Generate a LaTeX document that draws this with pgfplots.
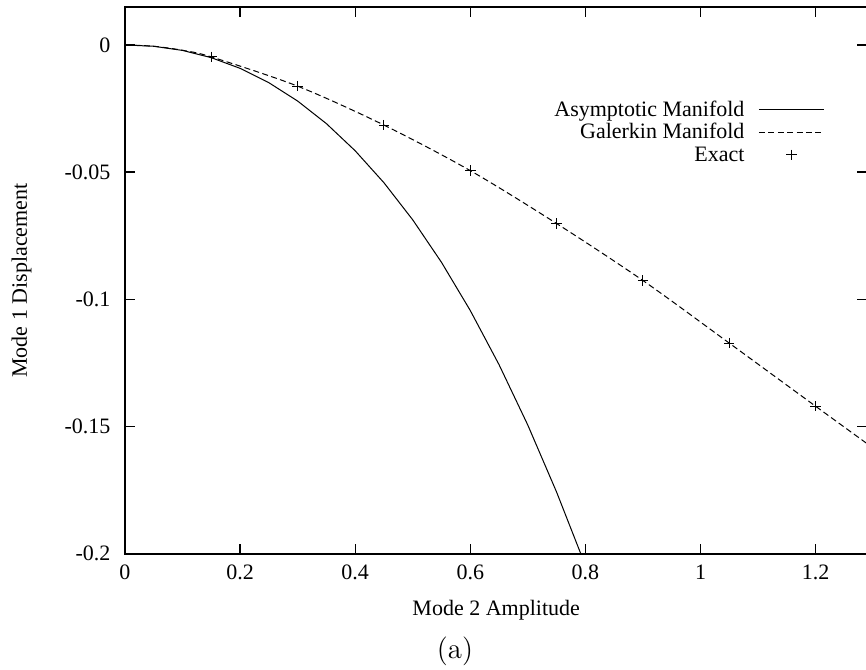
\documentclass[border=0pt]{standalone}
\usepackage{fontspec}
\usepackage{pgfplots}
\pgfplotsset{compat=1.18}
\newfontfamily\tnr{Liberation Serif}
\newcommand\tnrsz{\tnr\fontsize{11}{13}\selectfont}
% uniform row height for legend entries, centred on the x-height
\newcommand\lstrut{\rule[-3.1pt]{0pt}{11.2pt}}
\pgfplotsset{
  lineleg/.style={legend image code/.code={\draw[##1] (0pt,0pt) -- (32.5pt,0pt);}},
  markleg/.style={legend image code/.code={\draw[##1] plot coordinates {(16.25pt,0pt)};}},
}

\begin{document}
\begin{tikzpicture}
\begin{axis}[
  scale only axis,
  width=371.2pt, height=273.25pt,
  xmin=0, xmax=1.29, ymin=-0.2, ymax=0.0148,
  xtick={0,0.2,0.4,0.6,0.8,1,1.2},
  xticklabels={0,0.2,0.4,0.6,0.8,1,1.2},
  ytick={-0.2,-0.15,-0.1,-0.05,0},
  yticklabels={-0.2,-0.15,-0.1,-0.05,0},
  tick align=inside, major tick length=5pt,
  axis line style={line width=1pt},
  tick style={line width=0.7pt, black},
  ticklabel style={font=\tnrsz},
  x tick label style={yshift=-2pt},
  y tick label style={xshift=-3.8pt},
  xlabel={Mode 2 Amplitude}, ylabel={Mode 1 Displacement},
  every axis x label/.style={at={(rel axis cs:0.5,0)}, anchor=center, yshift=-28pt, font=\tnrsz},
  every axis y label/.style={at={(rel axis cs:0,0.5)}, xshift=-51.7pt, rotate=90, anchor=center, font=\tnrsz},
  legend plot pos=right,
  legend cell align=right,
  legend style={draw=none, fill=none, font=\tnrsz, inner sep=0pt,
    at={(rel axis cs:0.9427,0.8386)}, anchor=north east,
    column sep=5pt, row sep=-2.25pt},
]
% asymptotic (centre manifold) approximation
\addplot[black, line width=0.5pt, lineleg]
  coordinates {
  (0,0) (0.05,-0.00052) (0.1,-0.00215) (0.15,-0.00501) (0.2,-0.0092)
  (0.25,-0.01484) (0.3,-0.02205) (0.35,-0.03093) (0.4,-0.0416)
  (0.45,-0.05417) (0.5,-0.06875) (0.55,-0.08546) (0.6,-0.1044)
  (0.65,-0.12569) (0.7,-0.14945) (0.75,-0.17578) (0.792,-0.2)
  };
\addlegendentry{\lstrut Asymptotic Manifold}
% Galerkin projection
\addplot[black, line width=0.5pt, dash pattern=on 3pt off 1.7pt, smooth, lineleg]
  coordinates {
  (0,0) (0.05,-0.00052) (0.1,-0.0021) (0.15,-0.0047) (0.3,-0.0162)
  (0.45,-0.0315) (0.6,-0.0494) (0.75,-0.0702) (0.9,-0.0926)
  (1.05,-0.1172) (1.2,-0.1420) (1.29,-0.1568)
  };
\addlegendentry{\lstrut Galerkin Manifold}
% exact solution
\addplot[only marks, mark=+, mark size=2.6pt, black, mark options={line width=0.5pt}, markleg]
  coordinates {
  (0.15,-0.0047) (0.3,-0.0162) (0.45,-0.0315) (0.6,-0.0494)
  (0.75,-0.0702) (0.9,-0.0926) (1.05,-0.1172) (1.2,-0.1420)
  };
\addlegendentry{\lstrut Exact}
\end{axis}
\node[font=\fontsize{14.4}{17}\selectfont] at ([shift={(165pt,-49pt)}]current axis.south west) {(a)};
\pgfresetboundingbox
\path ([shift={(-62.5pt,-57.6pt)}]current axis.south west) rectangle ([shift={(370.5pt,276.9pt)}]current axis.south west);
\end{tikzpicture}
\end{document}
